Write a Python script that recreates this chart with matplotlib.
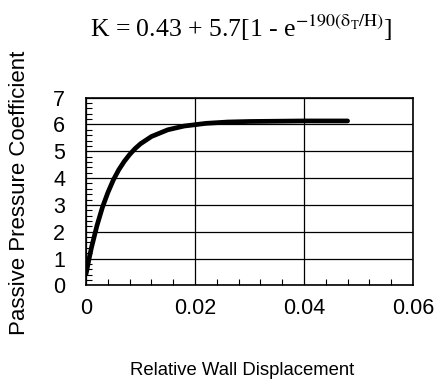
import matplotlib.pyplot as plt
from matplotlib.ticker import MultipleLocator

# relative wall displacement (delta_T / H) and passive pressure coefficient K
displacement = [0.0, 0.0005, 0.001, 0.002, 0.003, 0.004, 0.005, 0.006, 0.007,
                0.008, 0.009, 0.010, 0.012, 0.015, 0.018, 0.022, 0.026,
                0.030, 0.035, 0.040, 0.048]
coefficient = [0.43, 0.95, 1.42, 2.23, 2.91, 3.46, 3.93, 4.31, 4.62,
               4.88, 5.10, 5.28, 5.55, 5.80, 5.94, 6.04, 6.09,
               6.11, 6.12, 6.13, 6.13]

x_ticks = [0, 0.02, 0.04, 0.06]
x_tick_labels = ["0", "0.02", "0.04", "0.06"]
y_ticks = [0, 1, 2, 3, 4, 5, 6, 7]

fig = plt.figure(figsize=(4.37, 3.92), dpi=100)
ax = fig.add_axes([0.197, 0.272, 0.748, 0.479])

ax.plot(displacement, coefficient, color="black", linewidth=3.4,
        solid_capstyle="round", zorder=3)

ax.set_xlim(0, 0.06)
ax.set_ylim(0, 7)
ax.set_xticks(x_ticks)
ax.set_xticklabels(x_tick_labels)
ax.set_yticks(y_ticks)
ax.xaxis.set_minor_locator(MultipleLocator(0.004))
ax.yaxis.set_minor_locator(MultipleLocator(0.2))
ax.tick_params(which="both", direction="in", color="black")
ax.tick_params(which="major", length=0)
ax.tick_params(axis="x", which="major", pad=9)
ax.tick_params(axis="y", which="major", pad=15)
ax.tick_params(which="minor", length=4, width=0.8)
for lbl in ax.get_xticklabels() + ax.get_yticklabels():
    lbl.set_fontfamily("Liberation Sans")
    lbl.set_fontsize(15.5)

ax.grid(True, which="major", color="black", linewidth=0.9)
for spine in ax.spines.values():
    spine.set_linewidth(1.2)

fig.text(0.553, 0.93,
         r"K = 0.43 + 5.7[1 - e$^{\mathrm{-190(\delta_T/H)}}$]",
         ha="center", va="center", fontsize=18.5, family="Liberation Serif",
         math_fontfamily="stix")
fig.text(0.045, 0.508, "Passive Pressure Coefficient", rotation=90,
         ha="center", va="center", fontsize=16, family="Liberation Sans")
fig.text(0.555, 0.055, "Relative Wall Displacement",
         ha="center", va="center", fontsize=13.3, family="Liberation Sans")

fig.savefig("out.png", dpi=100)
